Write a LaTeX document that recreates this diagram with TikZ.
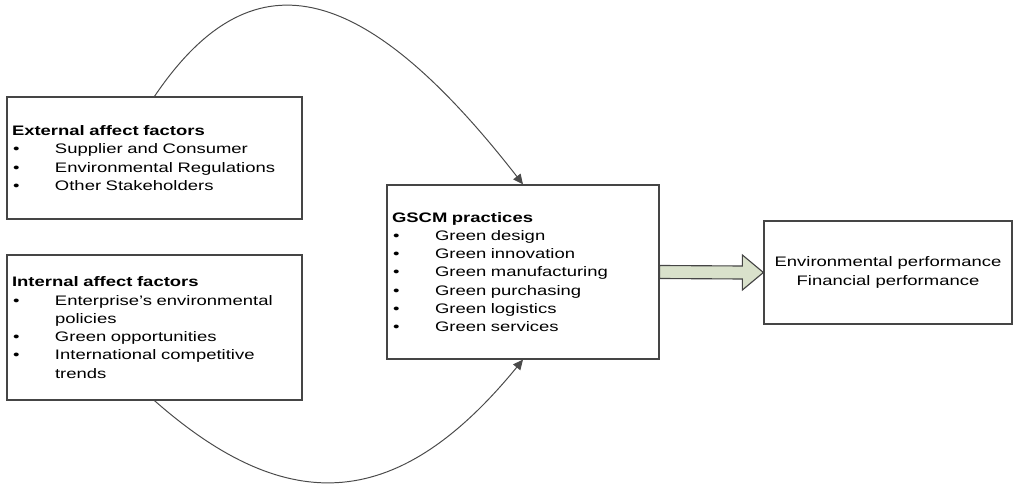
\documentclass[tikz,border=0pt]{standalone}
\usepackage{fontspec}
\setmainfont{Liberation Sans}[FakeStretch=1.34]
\usetikzlibrary{arrows.meta}
\usepackage{xcolor}
\definecolor{boxline}{HTML}{454545}
\definecolor{curveline}{HTML}{4A4A4A}
\definecolor{arrowfill}{HTML}{D9E1CB}
\newcommand{\factoritem}{\makebox[1.075cm][l]{\hspace{0.3mm}\textbullet}}
\newcommand{\factorcont}{\hspace*{1.075cm}}

\begin{document}
\begin{tikzpicture}[>={Triangle[length=2.5mm,width=2.3mm]},
  factorbox/.style={draw=boxline,line width=0.9pt,inner xsep=1.25mm,inner ysep=0pt,align=left,font=\fontsize{9.8}{13}\selectfont},
  influence/.style={->,draw=curveline,line width=0.7pt},
  fatarrow/.style={draw=boxline,line width=0.8pt,fill=arrowfill,line join=miter}]
\useasboundingbox (0,0) rectangle (25.375,12.125);
\node[factorbox,text width=7.125cm,minimum height=3.05cm] (ext) at (3.8625,8.175) {\textbf{External affect factors}\\
\factoritem Supplier and Consumer\\
\factoritem Environmental Regulations\\
\factoritem Other Stakeholders};
\node[factorbox,text width=7.125cm,minimum height=3.625cm] (int) at (3.8625,3.9375) {\textbf{Internal affect factors}\\
\factoritem Enterprise's environmental\\
\factorcont policies\\
\factoritem Green opportunities\\
\factoritem International competitive\\
\factorcont trends};
\node[factorbox,text width=6.55cm,minimum height=4.35cm] (gscm) at (13.075,5.325) {\textbf{GSCM practices}\\
\factoritem Green design\\
\factoritem Green innovation\\
\factoritem Green manufacturing\\
\factoritem Green purchasing\\
\factoritem Green logistics\\
\factoritem Green services};
\node[factorbox,align=center,minimum width=6.2cm,minimum height=2.575cm] (perf) at (22.2,5.3125) {Environmental performance\\Financial performance};
% influences on the practices
\draw[influence] (ext.north) .. controls (6.25,13.25) and (9.0,12.75) .. (gscm.north);
\draw[influence] (int.south) .. controls (7.25,-0.875) and (10.0,-0.625) .. (gscm.south);
% practices lead to performance
\draw[fatarrow] ([yshift=1.625mm]gscm.east) -- ([xshift=-5.25mm,yshift=1.625mm]perf.west) -- ([xshift=-5.25mm,yshift=4.375mm]perf.west) -- (perf.west) -- ([xshift=-5.25mm,yshift=-4.375mm]perf.west) -- ([xshift=-5.25mm,yshift=-1.625mm]perf.west) -- ([yshift=-1.625mm]gscm.east) -- cycle;
\end{tikzpicture}
\end{document}
